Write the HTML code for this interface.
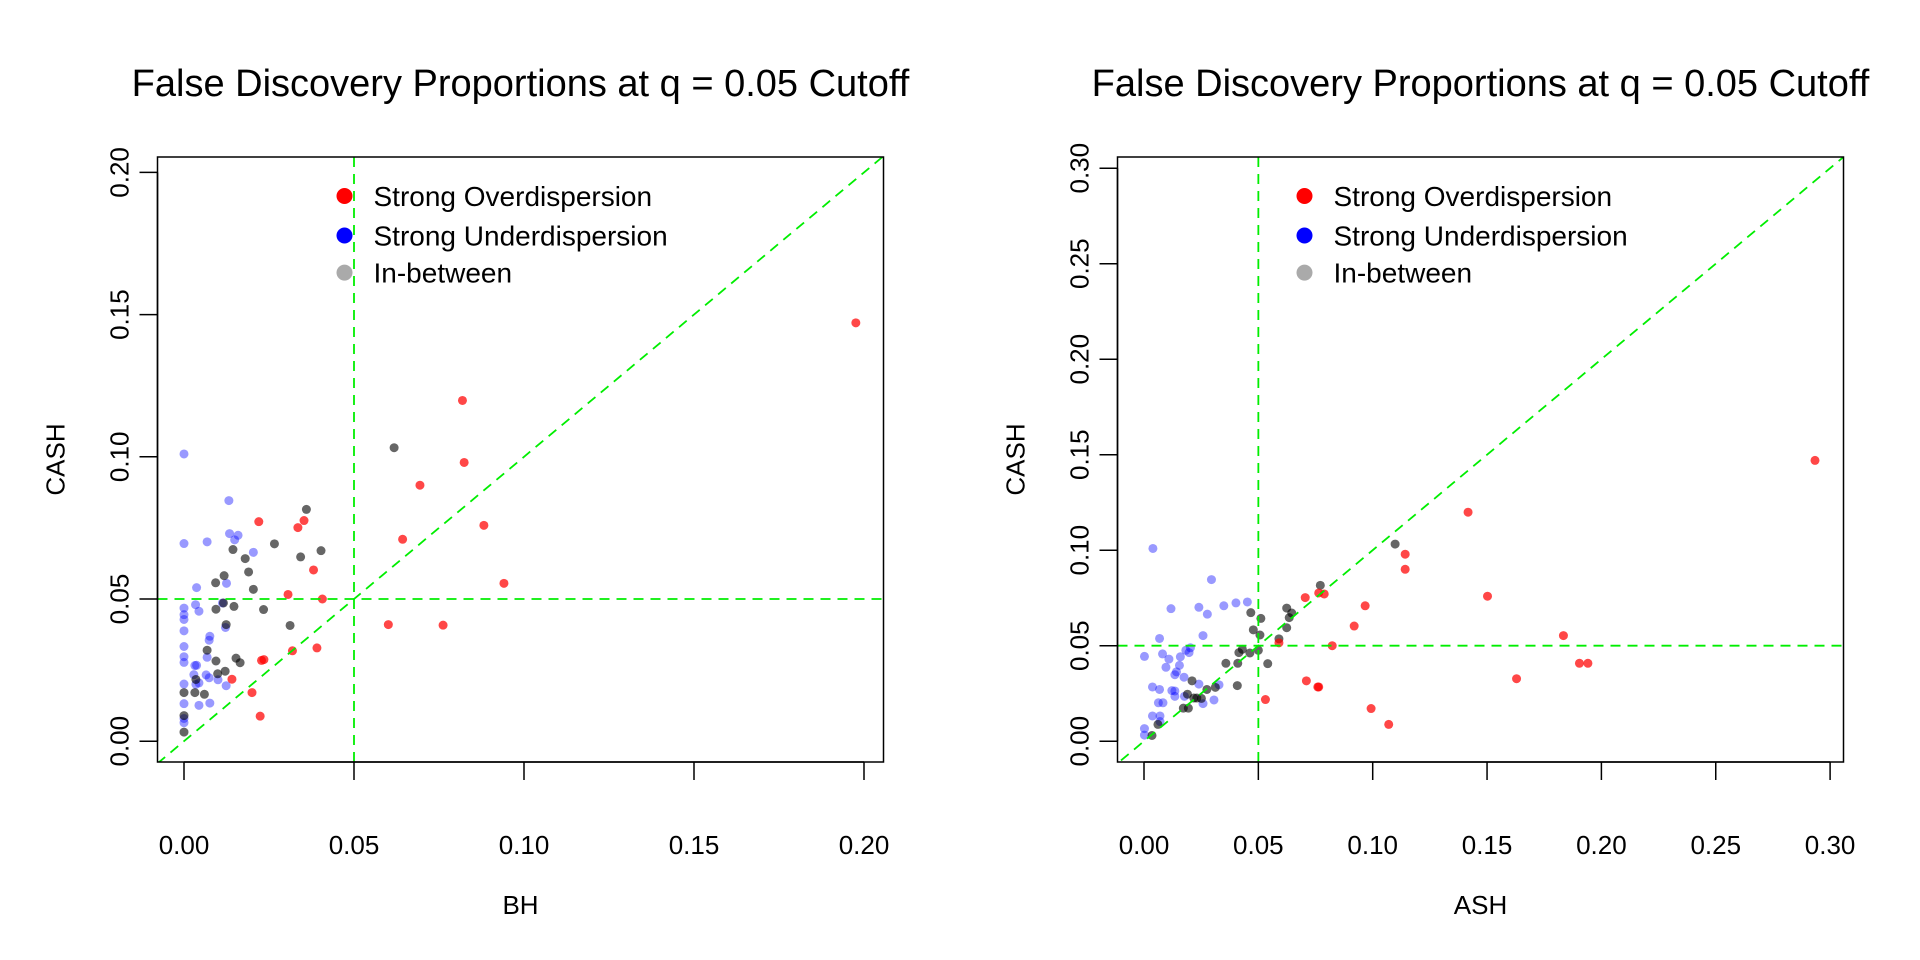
<!DOCTYPE html>
<html><head><meta charset="utf-8"><style>
html,body{margin:0;padding:0;background:#fff;}
svg{display:block;font-family:"Liberation Sans",Arial,sans-serif;}
</style></head><body>
<svg id="chart" width="1920" height="960" viewBox="0 0 1920 960"></svg>
<script>
// ---------- data ----------
const legendLabels = ["Strong Overdispersion","Strong Underdispersion","In-between"];
const xTicksLeft = [0,0.05,0.10,0.15,0.20];
const yTicksLeft = [0,0.05,0.10,0.15,0.20];
const xTicksRight = [0,0.05,0.10,0.15,0.20,0.25,0.30];
const yTicksRight = [0,0.05,0.10,0.15,0.20,0.25,0.30];
const cutoff = 0.05;

const leftRedX = [0.1976,0.0819,0.0824,0.0694,0.0882,0.0643,0.0941,0.022,0.0335,0.0353,0.0381,0.0306,0.0407,0.0601,0.0762,0.0319,0.0391,0.0228,0.0235,0.0141,0.02,0.0224];
const leftRedY = [0.1471,0.1198,0.098,0.090,0.0759,0.071,0.0555,0.0772,0.0751,0.0776,0.0602,0.0516,0.050,0.041,0.0408,0.0318,0.0328,0.0284,0.0287,0.0218,0.0171,0.0088];
const leftBlackX = [0.0618,0.036,0.0266,0.0403,0.0144,0.018,0.0343,0.019,0.0118,0.0093,0.0204,0.0116,0.0147,0.0094,0.0234,0.0124,0.0312,0.0068,0.0153,0.0165,0.0094,0.0099,0.0121,0.0035,0,0.0032,0.006,0,0];
const leftBlackY = [0.1032,0.0815,0.0694,0.067,0.0674,0.0642,0.0648,0.0595,0.0582,0.0557,0.0534,0.0486,0.0474,0.0464,0.0463,0.041,0.0407,0.032,0.0292,0.0276,0.0282,0.0237,0.0246,0.0217,0.0171,0.0171,0.0165,0.009,0.0032];
const leftBlueX = [0,0.0132,0.0134,0.0159,0.0149,0,0.0068,0.0204,0.0037,0.0125,0,0.0034,0.0044,0.0113,0,0,0.0122,0,0.0076,0.0074,0,0.0068,0,0,0.0032,0.0037,0.0029,0.0065,0.0074,0.01,0,0.0044,0.0124,0.0035,0,0.0044,0.0076,0,0];
const leftBlueY = [0.101,0.0846,0.073,0.0724,0.0708,0.0695,0.0701,0.0664,0.054,0.0555,0.0468,0.048,0.0457,0.0486,0.0445,0.0428,0.04,0.0388,0.0369,0.0355,0.0333,0.0295,0.0297,0.0277,0.0266,0.0267,0.0234,0.0233,0.0223,0.0216,0.0201,0.0205,0.0195,0.02,0.0132,0.0126,0.0134,0.0065,0.008];

const rightRedX = [0.2934,0.1417,0.1142,0.1142,0.1502,0.0967,0.0919,0.1834,0.0705,0.0764,0.0788,0.0823,0.059,0.1904,0.1941,0.1629,0.071,0.076,0.0764,0.0531,0.0993,0.107];
const rightRedY = [0.147,0.1199,0.0979,0.09,0.0759,0.0709,0.0603,0.0553,0.0752,0.0776,0.0771,0.05,0.0515,0.0408,0.0408,0.0327,0.0316,0.0284,0.0284,0.0218,0.0171,0.0088];
const rightBlackX = [0.1098,0.0771,0.0624,0.0646,0.0635,0.0624,0.0467,0.0511,0.0478,0.0507,0.059,0.05,0.043,0.0415,0.0463,0.0541,0.0358,0.041,0.0408,0.021,0.0312,0.0275,0.019,0.0231,0.0251,0.0218,0.0172,0.0194,0.0061,0.0035];
const rightBlackY = [0.1032,0.0816,0.0697,0.0671,0.0647,0.0594,0.0673,0.0643,0.0583,0.0556,0.0536,0.0476,0.0481,0.0464,0.0462,0.0406,0.0408,0.0408,0.0291,0.0316,0.0282,0.0271,0.0246,0.0226,0.0224,0.0226,0.0173,0.0173,0.0088,0.003];
const rightBlueX = [0.0039,0.0295,0.0118,0.024,0.0277,0.0349,0.0402,0.0452,0.0258,0.0068,0.0002,0.0081,0.0109,0.0159,0.0183,0.0203,0.0197,0.0155,0.0096,0.0142,0.0135,0.0175,0.024,0.0328,0.0037,0.0068,0.0122,0.0135,0.0135,0.0177,0.0258,0.0306,0.0063,0.0083,0.0037,0.007,0.007,0.0002,0.0002];
const rightBlueY = [0.1009,0.0846,0.0694,0.0701,0.0665,0.0709,0.0724,0.0729,0.0553,0.0538,0.0444,0.0457,0.043,0.0442,0.0476,0.0489,0.0464,0.0397,0.0387,0.0363,0.0348,0.0335,0.0299,0.0295,0.0284,0.0271,0.0265,0.0263,0.0235,0.0235,0.0197,0.0216,0.0201,0.0201,0.0132,0.0132,0.0103,0.0066,0.0032];

// ---------- drawing ----------
const NS = "http://www.w3.org/2000/svg";
const svg = document.getElementById("chart");
function mk(tag, attrs, parent){
  const e = document.createElementNS(NS, tag);
  for (const k in attrs) e.setAttribute(k, attrs[k]);
  (parent||svg).appendChild(e);
  return e;
}
function panel(p){
  const g = mk("g", {});
  
  
  const sx = v => p.x0 + v * p.xs;
  const sy = v => p.y0 - v * p.ys;
  const cid = p.name + "-clip";
  const cp = mk("clipPath", {id: cid}, g);
  mk("rect", {x:p.L, y:p.T, width:p.R-p.L, height:p.B-p.T}, cp);
  // title
  const t = mk("text", {x:(p.L+p.R)/2, y:96, "text-anchor":"middle", "font-size":"38", fill:"#000"}, g);
  t.textContent = "False Discovery Proportions at q = 0.05 Cutoff";
  
  
  // points
  const pg = mk("g", {"clip-path":"url(#"+cid+")"}, g);
  const series = [
    [p.blueX, p.blueY, "rgba(0,0,255,0.4)", "point-underdispersion"],
    [p.blackX, p.blackY, "rgba(0,0,0,0.6)", "point-in-between"],
    [p.redX, p.redY, "rgba(255,0,0,0.72)", "point-overdispersion"]
  ];
  series.forEach(s => {
    for (let i=0;i<s[0].length;i++){
      const c = mk("circle", {cx:sx(s[0][i]), cy:sy(s[1][i]), r:4.5, fill:s[2]}, pg);
      
      
    }
  });
  // reference lines
  const ls = {stroke:"#00ee00", "stroke-width":1.8, "stroke-dasharray":"10,7", fill:"none"};
  const vl = mk("line", Object.assign({x1:sx(cutoff), x2:sx(cutoff), y1:p.T, y2:p.B}, ls), pg);
  
  
  const hl = mk("line", Object.assign({x1:p.L, x2:p.R, y1:sy(cutoff), y2:sy(cutoff)}, ls), pg);
  
  
  const dl = mk("line", Object.assign({x1:sx(-0.05), y1:sy(-0.05), x2:sx(0.4), y2:sy(0.4)}, ls), pg);
  
  
  // frame
  const fr = mk("rect", {x:p.L, y:p.T, width:p.R-p.L, height:p.B-p.T, fill:"none", stroke:"#000", "stroke-width":1.5}, g);
  
  
  // x axis
  const xa = mk("g", {}, g);
  
  
  mk("line", {x1:sx(p.xt[0]), x2:sx(p.xt[p.xt.length-1]), y1:p.B, y2:p.B, stroke:"#000","stroke-width":1.5}, xa);
  p.xt.forEach(v => {
    mk("line", {x1:sx(v), x2:sx(v), y1:p.B, y2:p.B+18, stroke:"#000","stroke-width":1.5}, xa);
    const tl = mk("text", {x:sx(v), y:854, "text-anchor":"middle", "font-size":"26"}, xa);
    tl.textContent = v.toFixed(2);
    
    
  });
  const xl = mk("text", {x:(p.L+p.R)/2, y:914, "text-anchor":"middle", "font-size":"26"}, g);
  xl.textContent = p.xlab;
  
  
  // y axis
  const ya = mk("g", {}, g);
  
  
  mk("line", {x1:p.L, x2:p.L, y1:sy(p.yt[0]), y2:sy(p.yt[p.yt.length-1]), stroke:"#000","stroke-width":1.5}, ya);
  p.yt.forEach(v => {
    mk("line", {x1:p.L-18, x2:p.L, y1:sy(v), y2:sy(v), stroke:"#000","stroke-width":1.5}, ya);
    const tx = p.L - 29, ty = sy(v);
    const tl = mk("text", {x:tx, y:ty, "text-anchor":"middle", "font-size":"26", transform:"rotate(-90 "+tx+" "+ty+")"}, ya);
    tl.textContent = v.toFixed(2);
    
    
  });
  const yx = p.L - 93, yy = (p.T+p.B)/2;
  const yl = mk("text", {x:yx, y:yy, "text-anchor":"middle", "font-size":"26", transform:"rotate(-90 "+yx+" "+yy+")"}, g);
  yl.textContent = "CASH";
  
  
  // legend
  const lg = mk("g", {}, g);
  
  
  const lc = ["#ff0000","#0000ff","#aaaaaa"];
  const ly = [196, 235.5, 272.6];
  legendLabels.forEach((lab,i) => {
    const e = mk("g", {}, lg);
    
    
    mk("circle", {cx:p.L+187, cy:ly[i], r:8, fill:lc[i]}, e);
    const tt = mk("text", {x:p.L+216, y:ly[i]+10, "font-size":"28"}, e);
    tt.textContent = lab;
  });
}
panel({name:"left-panel", L:157.5, R:883.5, T:157, B:762, x0:184, xs:3400, y0:741.2, ys:2844,
  xt:xTicksLeft, yt:yTicksLeft, xlab:"BH",
  redX:leftRedX, redY:leftRedY, blackX:leftBlackX, blackY:leftBlackY, blueX:leftBlueX, blueY:leftBlueY});
panel({name:"right-panel", L:1117.5, R:1843.5, T:157, B:762, x0:1144, xs:2287, y0:741.2, ys:1910,
  xt:xTicksRight, yt:yTicksRight, xlab:"ASH",
  redX:rightRedX, redY:rightRedY, blackX:rightBlackX, blackY:rightBlackY, blueX:rightBlueX, blueY:rightBlueY});
</script>
</body></html>
